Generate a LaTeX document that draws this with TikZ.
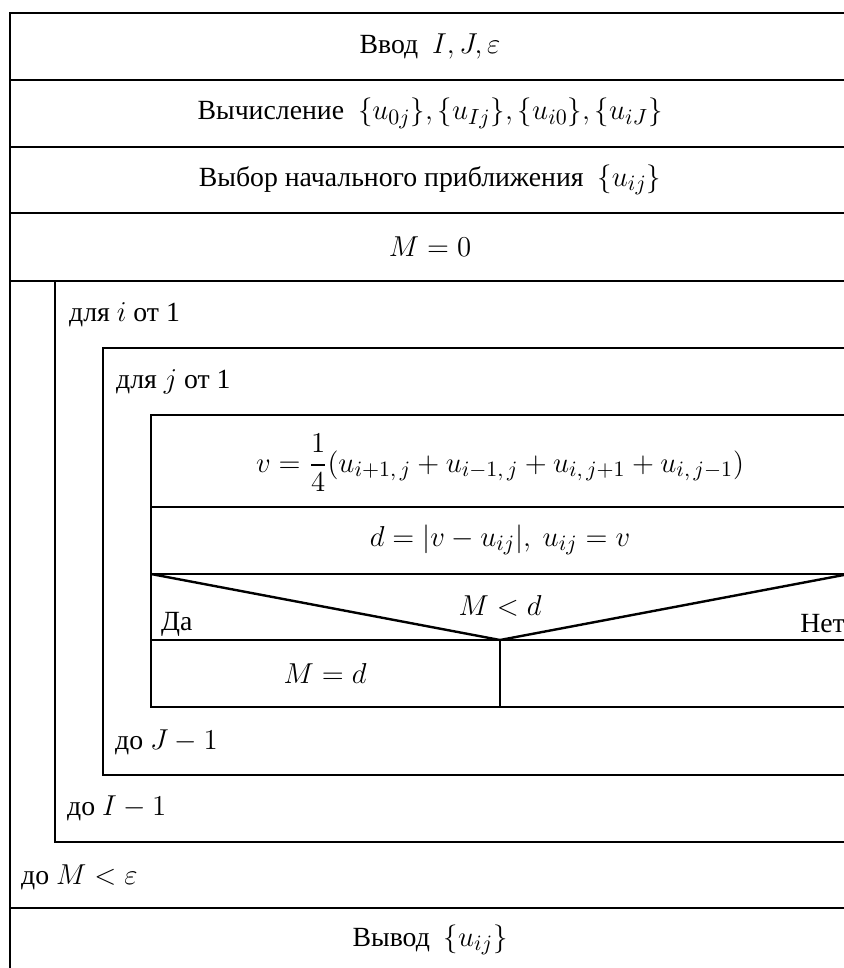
\documentclass[tikz,border=0pt]{standalone}
\usepackage{amsmath}
\usepackage{fontspec}
\setmainfont{Liberation Serif}[Scale=0.89]
\usetikzlibrary{positioning}

\begin{document}
\begin{tikzpicture}[x=0.5pt, y=-0.5pt, line width=1.2pt,
  txt/.style={inner sep=0pt, font=\fontsize{15.6}{18}\selectfont},
  lbl/.style={txt, anchor=west}]

  \useasboundingbox (0,0) rectangle (844,968);
  \clip (0,0) rectangle (844,968);

  % outer frame and plain blocks
  \draw (849,13) -- (10,13) -- (10,968);
  \foreach \y in {80,147,213,281,908}
    \draw (10,\y) -- (849,\y);

  \node[txt] (input) at (430,46.5) {Ввод~ $I, J, \varepsilon$};
  \node[txt] (bound) at (430,113.5) {Вычисление~ $\{u_{0j}\}, \{u_{Ij}\}, \{u_{i0}\}, \{u_{iJ}\}$};
  \node[txt] (init) at (430,180) {Выбор начального приближения~ $\{u_{ij}\}$};
  \node[txt] (mzero) at (430,247) {$M = 0$};

  % loop over i
  \draw (849,842) -- (55,842) -- (55,281);
  \node[lbl] (fori) at (68,315) {для $i$ от 1};
  \node[lbl] (untilI) at (66,808) {до $I-1$};

  % loop over j
  \draw (849,348) -- (103,348) -- (103,775) -- (849,775);
  \node[lbl] (forj) at (115,382) {для $j$ от 1};
  \node[lbl] (untilJ) at (114,742) {до $J-1$};

  % loop body
  \draw (849,415) -- (151,415) -- (151,707) -- (849,707);
  \draw (151,507) -- (849,507);
  \draw (151,574) -- (849,574);
  \draw (151,640) -- (849,640);
  \coordinate (tip) at (500,640);
  \draw (151,574) -- (tip) -- (849,574);
  \draw (tip) -- (500,707);

  \node[txt] (relax) at (500,463) {$v = \dfrac{1}{4}(u_{i+1,\,j} + u_{i-1,\,j} + u_{i,\,j+1} + u_{i,\,j-1})$};
  \node[txt] (diff) at (500,540) {$d = |v - u_{ij}|,\ u_{ij} = v$};
  \node[txt] (cond) at (500,606) {$M < d$};
  \node[lbl] (yes) at (160,624) {Да};
  \node[txt, anchor=east] (no) at (846,624) {Нет};
  \node[txt] (assign) at (325,673) {$M = d$};

  % repeat condition and output
  \node[lbl] (untilM) at (20,877) {до $M < \varepsilon$};
  \node[txt] (output) at (430,940) {Вывод~ $\{u_{ij}\}$};
\end{tikzpicture}
\end{document}
